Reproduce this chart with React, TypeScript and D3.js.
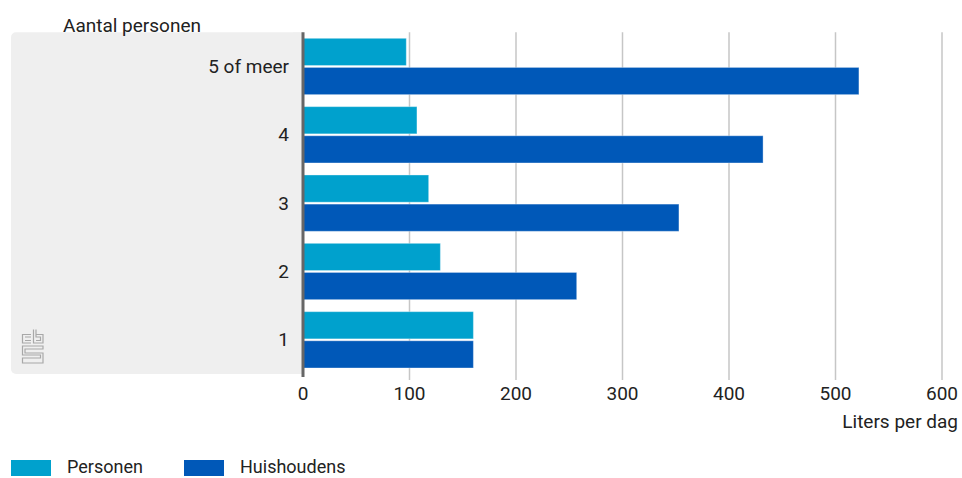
import React from "react";
import * as d3 from "d3";

const categories = ["5 of meer", "4", "3", "2", "1"];
const personen = [97, 107, 118, 129, 160];
const huishoudens = [522, 432, 353, 257, 160];
const seriesNames = ["Personen", "Huishoudens"];
const xTicks = [0, 100, 200, 300, 400, 500, 600];

const W = 962;
const H = 478;
const FONT = "Roboto, 'Open Sans', sans-serif";
const colors = ["#00a1cd", "#0058b8"];
const FS = 19;

export default function App() {
  const left = 303;
  const right = 942;
  const top = 32.3;
  const bottom = 374;

  const x = d3.scaleLinear().domain([0, 600]).range([left, right]);
  const y = d3.scaleBand<string>().domain(categories).range([top, bottom]).padding(0);
  const step = y.bandwidth();
  const inner = d3
    .scaleBand<string>()
    .domain(seriesNames)
    .range([6, step - 6])
    .paddingInner(0.065);

  const data = categories.map((c, i) => ({ c, vals: [personen[i], huishoudens[i]] }));

  return (
    <svg
      width={W}
      height={H}
      style={{ position: "absolute", left: 0, top: 0, fontFamily: FONT }}
    >
      <rect x={11} y={top} width={left - 11} height={bottom - top} rx={5} fill="#efefef" />
      <rect x={left - 10} y={top} width={10} height={bottom - top} fill="#efefef" />
      {xTicks.map((t) =>
        t === 0 ? null : (
          <line key={t} x1={x(t)} x2={x(t)} y1={top} y2={380} stroke="#c6c6c6" strokeWidth={1.5} />
        )
      )}
      {data.map((d) => (
        <g key={d.c} transform={`translate(0,${y(d.c)})`}>
          {d.vals.map((v, j) => (
            <rect
              key={j}
              x={x(0)}
              y={inner(seriesNames[j])}
              width={x(v) - x(0)}
              height={inner.bandwidth()}
              fill={colors[j]}
              stroke="rgba(255,255,255,0.35)"
              strokeWidth={1}
            />
          ))}
          <text
            x={289}
            y={step / 2}
            textAnchor="end"
            dominantBaseline="central"
            fontSize={FS}
            fill="#222"
          >
            {d.c}
          </text>
        </g>
      ))}
      <line x1={x(0)} x2={x(0)} y1={top} y2={377} stroke="#666" strokeWidth={3} />
      {xTicks.map((t) => (
        <text key={t} x={x(t)} y={393} textAnchor="middle" dominantBaseline="central" fontSize={FS} fill="#222">
          {t}
        </text>
      ))}
      <text x={958} y={421} textAnchor="end" dominantBaseline="central" fontSize={FS} fill="#222">
        Liters per dag
      </text>
      <text x={63} y={25} dominantBaseline="central" fontSize={FS} fill="#222">
        Aantal personen
      </text>
      <g fill="none" stroke="#a8a8a8" strokeWidth={1.2}>
        <path d="M31,334.5 H22.5 V343 H31" />
        <path d="M25,337 H31 M25,340.5 H31" />
        <path d="M33.5,329.5 V343 H43 V334.5 H36" />
        <path d="M36,329.5 V337 H40.5 V340.5 H36" />
        <path d="M43,346 H22.5 V355 H40.5 V358 H22.5 V363 H43 V353 H25 V349 H43 Z" />
      </g>
      {seriesNames.map((s, i) => (
        <g key={s} transform={`translate(${11 + i * 173},460)`}>
          <rect x={0} y={0} width={40} height={16} fill={colors[i]} />
          <text x={56} y={13} fontSize={18} fill="#222">
            {s}
          </text>
        </g>
      ))}
    </svg>
  );
}
